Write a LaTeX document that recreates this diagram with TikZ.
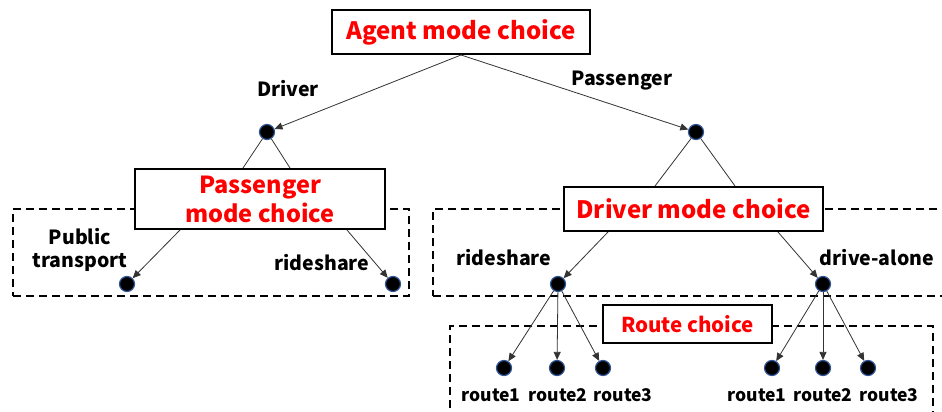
\documentclass[tikz,border=0pt]{standalone}
\usepackage{fontspec}
\newfontfamily\gfont{Noto Sans CJK JP}
\usetikzlibrary{arrows.meta,calc}
\definecolor{dotblue}{HTML}{2F5597}
\begin{document}
\begin{tikzpicture}[x=1pt,y=-1pt,
  choicebox/.style={draw=black,line width=2pt,fill=white,text=red,font=\gfont\bfseries\fontsize{24}{28}\selectfont,inner sep=0pt,align=center},
  grp/.style={draw=black,line width=2.2pt,dash pattern=on 8pt off 5pt,inner sep=0pt},
  dot/.style={circle,fill=black,draw=dotblue,line width=1.2pt,minimum size=15pt,inner sep=0pt},
  lbl/.style={font=\gfont\bfseries\fontsize{19.5}{23}\selectfont,inner sep=0pt,align=center},
  rlbl/.style={font=\gfont\bfseries\fontsize{17.5}{20}\selectfont,inner sep=0pt},
  arr/.style={-{Triangle[length=8pt,width=7pt]},line width=0.8pt,draw=black!80},
  ln/.style={line width=0.8pt,draw=black!80}]
\useasboundingbox (0,0) rectangle (942,412);
\fill[white] (0,0) rectangle (942,412);
% groups
\node[grp,minimum width=396pt,minimum height=87pt] (gleft) at (211,252.5) {};
\node[grp,minimum width=527pt,minimum height=87pt] (gright) at (696.5,252.5) {};
\node[grp,minimum width=483pt,minimum height=104pt] (groute) at (691.5,378) {};
% dots
\node[dot] (d1) at (267,132) {};
\node[dot] (p1) at (696,132) {};
\node[dot] (pt) at (127,284) {};
\node[dot] (rs) at (393,284) {};
\node[dot] (rs2) at (558,284) {};
\node[dot] (da) at (823,284) {};
\node[dot] (r1) at (504,368) {};
\node[dot] (r2) at (557,368) {};
\node[dot] (r3) at (603,368) {};
\node[dot] (r4) at (772,368) {};
\node[dot] (r5) at (823,368) {};
\node[dot] (r6) at (868,368) {};
% boxes
\node[choicebox,minimum width=258pt,minimum height=44pt] (agent) at (461,32) {Agent mode choice};
\node[choicebox,minimum width=250pt,minimum height=60pt,font=\gfont\bfseries\fontsize{23.5}{29}\selectfont] (pm) at (260,199) {Passenger\\mode choice};
\node[choicebox,minimum width=259pt,minimum height=44pt] (dm) at (693.5,209) {Driver mode choice};
\node[choicebox,minimum width=169pt,minimum height=38pt,font=\gfont\bfseries\fontsize{20.5}{24}\selectfont] (rc) at (687.5,324) {Route choice};
% labels
\node[lbl] (ldriver) at (288,89) {Driver};
\node[lbl] (lpass) at (622,81) {Passenger};
\node[lbl] (lpt) at (80,250) {Public\\transport};
\node[lbl] (lrs) at (322,263) {rideshare};
\node[lbl] (lrs2) at (504,258) {rideshare};
\node[lbl] (lda) at (877,258) {drive-alone};
\node[rlbl] (t1) at (491,395) {route1};
\node[rlbl] (t2) at (558,395) {route2};
\node[rlbl] (t3) at (623,395) {route3};
\node[rlbl] (t4) at (757,395) {route1};
\node[rlbl] (t5) at (823,395) {route2};
\node[rlbl] (t6) at (889,395) {route3};
% connectors
\draw[arr] (agent.south) -- (d1);
\draw[arr] (agent.south) -- (p1);
\draw[ln] (d1) -- ($(pm.north)+(-17,0)$);
\draw[ln] (d1) -- ($(pm.north)+(30,0)$);
\draw[arr] ($(pm.south)+(-80,0)$) -- (pt);
\draw[arr] ($(pm.south)+(87,0)$) -- (rs);
\draw[ln] (p1) -- ($(dm.north)+(-38.5,0)$);
\draw[ln] (p1) -- ($(dm.north)+(41.5,0)$);
\draw[arr] ($(dm.south)+(-85.5,0)$) -- (rs2);
\draw[arr] ($(dm.south)+(84.5,0)$) -- (da);
\foreach \r in {r1,r2,r3} \draw[arr] (rs2) -- (\r);
\foreach \r in {r4,r5,r6} \draw[arr] (da) -- (\r);
\end{tikzpicture}
\end{document}
